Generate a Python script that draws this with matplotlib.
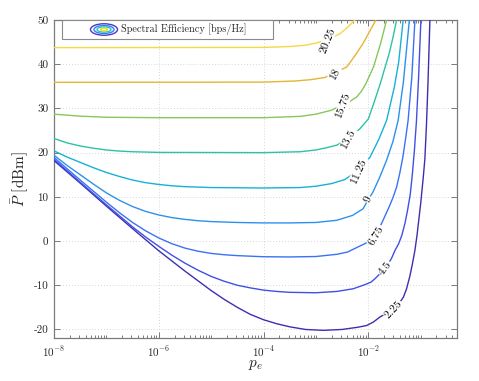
import matplotlib
matplotlib.use('Agg')
import matplotlib.pyplot as plt
import numpy as np
from matplotlib.patches import Ellipse, Rectangle

plt.rcParams.update({'font.family': 'serif', 'font.serif': ['cmr10'],
                     'mathtext.fontset': 'cm', 'axes.unicode_minus': False})

# ---------------- data ----------------
levels = [2.25, 4.5, 6.75, 9, 11.25, 13.5, 15.75, 18, 20.25]
level_labels = ['2.25', '4.5', '6.75', '9', '11.25', '13.5', '15.75', '18', '20.25']
level_colors = ['#3d2fb2', '#4050e6', '#3a72f4', '#2a92ee', '#16b2d6', '#2cc3a2',
                '#86c85a', '#e4b634', '#f6d843']

# log10(p_e) and P [dBm] along each contour line
lpe_2_25 = [-8, -7.5, -7, -6.5, -6, -5.5, -5.25, -5, -4.75, -4.5, -4.25, -4, -3.75, -3.5, -3.2,
            -2.86, -2.5, -2.2, -2.03, -1.9, -1.78, -1.65, -1.52, -1.42, -1.33, -1.27, -1.21,
            -1.16, -1.11, -1.07, -1.0, -0.95, -0.92, -0.89, -0.86, -0.824]
p_2_25 = [18.2, 13.1, 7.9, 2.8, -2.2, -6.8, -9.0, -11.2, -13.2, -15.0, -16.6, -17.8, -18.7,
          -19.4, -20.0, -20.2, -20.0, -19.5, -19.1, -18.3, -17.2, -16.3, -15.2, -14.2, -12.7,
          -10.8, -8.1, -5.3, -2.1, 1.3, 8.5, 14.5, 18.6, 26.2, 36, 50]

lpe_4_5 = [-8, -7.5, -7, -6.5, -6.25, -6, -5.75, -5.5, -5.25, -5, -4.75, -4.5, -4.25, -4, -3.75,
           -3.5, -3, -2.6, -2.29, -2.05, -1.95, -1.87, -1.68, -1.56, -1.49, -1.42, -1.36, -1.3,
           -1.25, -1.2, -1.16, -1.12, -1.08, -1.04, -0.996]
p_4_5 = [18.5, 13.3, 8.2, 3.2, 0.9, -1.2, -3.2, -5.0, -6.6, -8.0, -9.1, -10.0, -10.6, -11.1,
         -11.4, -11.6, -11.7, -11.4, -10.8, -9.8, -9.3, -8.5, -6.2, -4.0, -2.1, -0.6, 1.3, 4,
         7, 10.5, 15, 20.5, 27.3, 37, 50]

lpe_6_75 = [-8, -7.5, -7, -6.75, -6.5, -6.25, -6, -5.75, -5.5, -5.25, -5, -4.75, -4.5, -4,
            -3.5, -3, -2.6, -2.4, -2.26, -2.05, -1.85, -1.75, -1.68, -1.6, -1.53, -1.46, -1.40,
            -1.34, -1.29, -1.24, -1.17, -1.11]
p_6_75 = [18.9, 13.8, 8.8, 6.4, 4.2, 2.3, 0.7, -0.6, -1.6, -2.3, -2.8, -3.1, -3.3, -3.55,
          -3.6, -3.5, -3.0, -2.5, -1.7, -0.5, 1.3, 3.9, 5.7, 7.8, 9.8, 12.2, 15.3, 19, 23,
          27.3, 37, 50]

lpe_9 = [-8, -7.75, -7.5, -7.25, -7, -6.75, -6.5, -6.25, -6, -5.75, -5.5, -5.25, -5, -4.5, -4,
         -3.5, -3, -2.6, -2.3, -2.1, -2.0, -1.91, -1.78, -1.65, -1.53, -1.43, -1.33, -1.216]
p_9 = [19.4, 17.1, 15.0, 12.9, 10.9, 9.2, 7.8, 6.7, 5.9, 5.3, 4.9, 4.6, 4.4, 4.2, 4.1, 4.1,
       4.2, 4.7, 5.8, 7.3, 9.4, 11.1, 14.5, 18.3, 22.5, 27.3, 36, 50]

lpe_11_25 = [-8, -7.75, -7.5, -7.25, -7, -6.75, -6.5, -6.25, -6, -5.75, -5.5, -5, -4, -3.3,
             -3.0, -2.7, -2.45, -2.19, -1.97, -1.8, -1.65, -1.5, -1.42, -1.334]
p_11_25 = [20.4, 19.0, 17.8, 16.6, 15.5, 14.6, 13.8, 13.2, 12.8, 12.5, 12.3, 12.1, 12.0, 12.1,
           12.4, 13.0, 13.9, 16.0, 18.9, 23, 27.3, 35, 40.5, 50]

lpe_13_5 = [-8, -7.75, -7.5, -7.25, -7, -6.75, -6.5, -6, -4, -3.3, -3.0, -2.8, -2.6, -2.38,
            -2.16, -2.0, -1.9, -1.78, -1.7, -1.6, -1.53, -1.46]
p_13_5 = [23.2, 22.2, 21.5, 21.0, 20.6, 20.35, 20.2, 20.05, 20.0, 20.2, 20.6, 21.1, 21.7, 23.2,
          25.4, 27.6, 31, 35.3, 38.5, 42.5, 46, 50]

lpe_15_75 = [-8, -7.5, -7, -6, -4, -3.3, -3.0, -2.7, -2.48, -2.35, -2.22, -2.13, -2.05, -1.9,
             -1.77, -1.65]
p_15_75 = [28.7, 28.25, 28.0, 27.9, 27.9, 28.2, 28.7, 29.6, 30.9, 31.6, 32.6, 33.9, 35.5, 39.4,
           44.5, 50]

lpe_18 = [-8, -4, -3.4, -3.1, -2.83, -2.64, -2.41, -2.25, -2.1, -1.98, -1.855]
p_18 = [35.9, 35.95, 36.2, 36.5, 37.0, 38.0, 39.4, 42, 44.7, 47.3, 50]

lpe_20_25 = [-8, -4, -3.5, -3.2, -2.99, -2.78, -2.54, -2.4, -2.256]
p_20_25 = [43.75, 43.8, 44.0, 44.3, 44.8, 45.6, 46.9, 48.3, 50]

# inline label positions (log10 p_e, P, rotation in degrees)
lab_lpe = [-1.52, -1.68, -1.85, -2.0, -2.19, -2.38, -2.48, -2.64, -2.78]
lab_p = [-15.5, -6.2, 1.3, 9.4, 16.0, 23.2, 30.9, 38.0, 45.4]
lab_rot = [47, 52, 60, 66, 66, 62, 70, 62, 68]

curves_x = [lpe_2_25, lpe_4_5, lpe_6_75, lpe_9, lpe_11_25, lpe_13_5, lpe_15_75, lpe_18, lpe_20_25]
curves_y = [p_2_25, p_4_5, p_6_75, p_9, p_11_25, p_13_5, p_15_75, p_18, p_20_25]

xticks = [1e-8, 1e-6, 1e-4, 1e-2]
xticklabels = [r'$10^{-8}$', r'$10^{-6}$', r'$10^{-4}$', r'$10^{-2}$']
yticks = [-20, -10, 0, 10, 20, 30, 40, 50]

# ---------------- figure ----------------
W, H = 479, 381
fig = plt.figure(figsize=(W / 100, H / 100), dpi=100)
ax = fig.add_axes([54 / W, 1 - 338.3 / H, (457.3 - 54) / W, (338.3 - 20) / H])

for lx, ly, c in zip(curves_x, curves_y, level_colors):
    ax.plot(10.0 ** np.array(lx), ly, color=c, lw=1.0, zorder=3)

for lx, ly, r, t in zip(lab_lpe, lab_p, lab_rot, level_labels):
    ax.text(10.0 ** lx, ly, t, rotation=r, rotation_mode='anchor', ha='center', va='center',
            fontsize=8.5, color='#111111', zorder=4,
            bbox=dict(facecolor='white', edgecolor='none', pad=0.4))

ax.set_xscale('log')
ax.set_xlim(1e-8, 0.5)
ax.set_ylim(-22, 50)
ax.set_xticks(xticks)
ax.set_xticklabels(xticklabels)
minor = [k * 10.0 ** n for n in range(-8, 0) for k in range(1, 10)
         if not (k == 1 and n in (-8, -6, -4, -2)) and k * 10.0 ** n <= 0.5]
ax.set_xticks(minor, minor=True)
ax.set_xticklabels([], minor=True)
ax.set_yticks(yticks)
ax.set_yticklabels([str(v) for v in yticks])

ax.tick_params(which='both', direction='in', top=True, right=True, color='#666666',
               labelcolor='#262626', labelsize=8, width=0.6)
ax.tick_params(which='major', length=4, pad=4)
ax.tick_params(which='minor', length=2)
for s in ax.spines.values():
    s.set_color('#7a7a7a')
    s.set_linewidth(0.9)

ax.grid(True, which='major', linestyle=(0, (1, 2.5)), color='#c8c8c8', lw=0.6)
ax.set_axisbelow(True)

ax.set_ylabel(r'$\bar{P}$ [dBm]', fontsize=11, color='#262626')
ax.yaxis.set_label_coords(-0.058, 0.5)
ax.set_xlabel(r'$p_e$', fontsize=11, color='#262626')
ax.xaxis.set_label_coords(0.5, -0.062)

# ---------------- legend (contour icon) ----------------
tf = fig.transFigure
fig.patches.append(Rectangle((62 / W, 1 - 39.3 / H), 210.7 / W, 19.3 / H, transform=tf,
                             facecolor='white', edgecolor='#8a8a8a', lw=0.8, zorder=5))
cx, cy = 104 / W, 1 - 29.5 / H
for w, h, c in [(27, 11.5, '#4a3bc4'), (20, 8, '#2f7ff0'), (14, 5.2, '#30c2c0'), (7, 2.4, '#f2e020')]:
    fig.patches.append(Ellipse((cx, cy), w / W, h / H, transform=tf, fill=False,
                               edgecolor=c, lw=1.0, zorder=6))
fig.text(120.7 / W, 1 - 29.5 / H, 'Spectral Efficiency [bps/Hz]', fontsize=7.35,
         va='center', ha='left', color='#262626', zorder=7)

fig.savefig('out.png', dpi=100)
